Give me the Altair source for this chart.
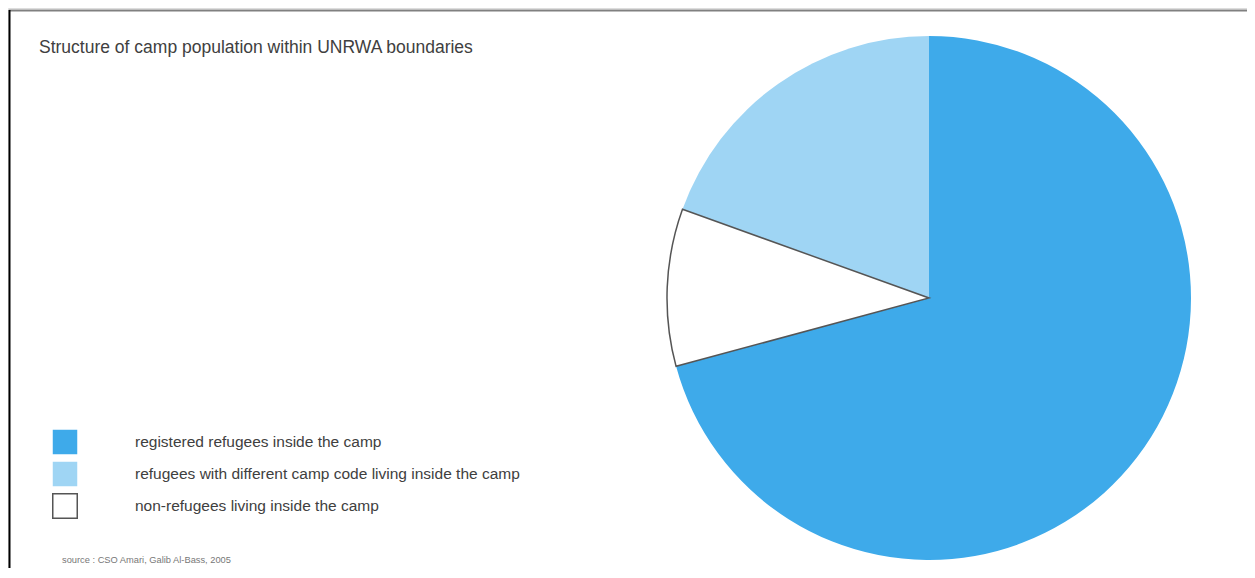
import altair as alt
import pandas as pd

# ---- data ----
categories = [
    "registered refugees inside the camp",
    "refugees with different camp code living inside the camp",
    "non-refugees living inside the camp",
]
shares = [70.8, 19.5, 9.7]       # percent of camp population (estimated)
pie_order = [1, 3, 2]            # clockwise from 12 o'clock
title_text = ["Structure of camp population within UNRWA boundaries"]
source_text = ["source : CSO Amari, Galib Al-Bass, 2005"]

fills = ["#3eaaea", "#9fd5f4", "#ffffff"]
strokes = ["transparent", "transparent", "#555555"]

df = pd.DataFrame({"category": categories, "share": shares, "ord": pie_order})
one = pd.DataFrame({"k": [0]})

FONT = "Liberation Sans"

legend = alt.Legend(
    title=None, orient="none", legendX=44, legendY=421, padding=0,
    symbolType="square", symbolSize=600, symbolStrokeWidth=1.5,
    rowPadding=0, labelOffset=57, labelFontSize=15.5, labelFont=FONT,
    labelColor="#404040", labelLimit=0,
)

pie = alt.Chart(df).mark_arc(outerRadius=262, strokeWidth=1.5).encode(
    theta=alt.Theta("share:Q", stack=True),
    order=alt.Order("ord:Q"),
    color=alt.Color("category:N", scale=alt.Scale(domain=categories, range=fills), legend=legend),
    stroke=alt.Stroke("category:N", scale=alt.Scale(domain=categories, range=strokes), legend=legend),
    x=alt.value(921), y=alt.value(290),
)

title = alt.Chart(pd.DataFrame({"t": title_text})).mark_text(
    align="left", baseline="alphabetic", font=FONT, fontSize=17.5, color="#404040"
).encode(text="t:N", x=alt.value(31), y=alt.value(45))

source = alt.Chart(pd.DataFrame({"t": source_text})).mark_text(
    align="left", baseline="alphabetic", font=FONT, fontSize=9.3, color="#777777"
).encode(text="t:N", x=alt.value(54), y=alt.value(555))

top_line = alt.Chart(one).mark_rule(color="#808080", strokeWidth=2).encode(
    x=alt.value(1), x2=alt.value(1239), y=alt.value(2.5)
)
left_line = alt.Chart(one).mark_rule(color="#000000", strokeWidth=2).encode(
    x=alt.value(1.5), y=alt.value(2), y2=alt.value(560)
)

chart = alt.layer(top_line, left_line, pie, title, source).properties(
    width=1239, height=560, autosize=alt.AutoSizeParams(type="none"), padding=0,
).configure_view(stroke=None).configure(background="white")

chart.save("out.html", embed_options={"renderer": "svg", "actions": False})
